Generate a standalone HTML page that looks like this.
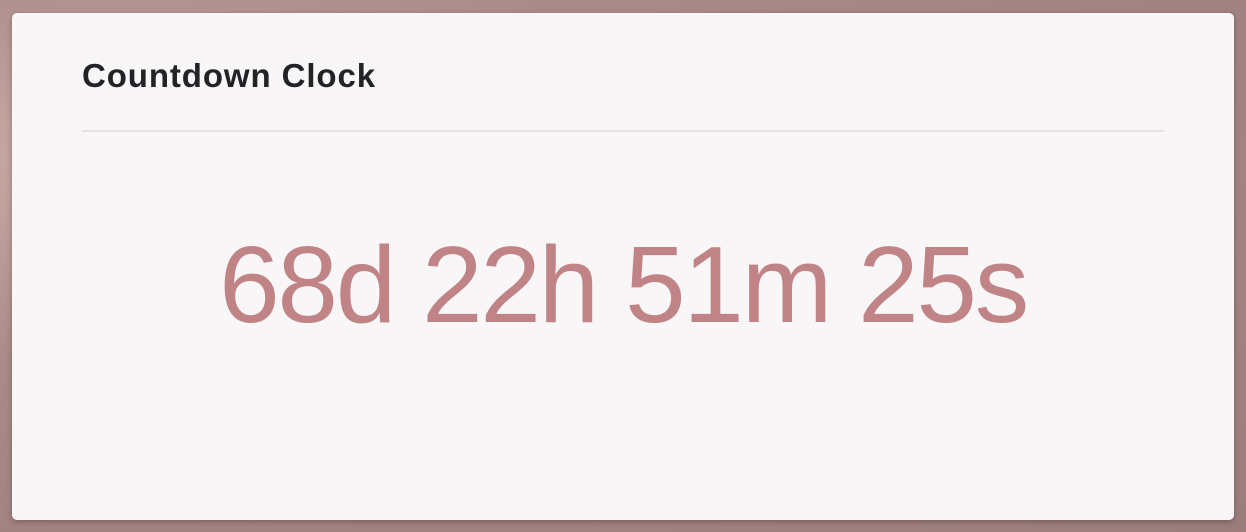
<!DOCTYPE html>
<html><head><meta charset="utf-8"><style>
html,body{margin:0;padding:0;width:1246px;height:532px;overflow:hidden;}
body{background:radial-gradient(ellipse at 10% 30%,#c8aaa6 0%,#a98a88 40%,#9a7d7c 100%);font-family:"Liberation Sans",sans-serif;position:relative;}
.card{position:absolute;left:12px;top:13px;width:1222px;height:507px;background:#f8f6f7;border-radius:5px;box-shadow:0 2px 6px rgba(60,30,30,0.35);}
.title{position:absolute;left:70px;top:44px;font-size:33px;font-weight:600;color:#222326;letter-spacing:0.9px;}
.rule{position:absolute;left:70px;top:117px;width:1082px;height:2px;background:#e4e2e5;}
.clock{position:absolute;left:0;width:100%;top:207px;text-align:center;font-size:109px;color:#c08486;letter-spacing:-2.3px;line-height:130px;}
</style></head><body>
<div class="card">
<div class="title">Countdown Clock</div>
<div class="rule"></div>
<div class="clock">68d 22h 51m 25s</div>
</div>
</body></html>
